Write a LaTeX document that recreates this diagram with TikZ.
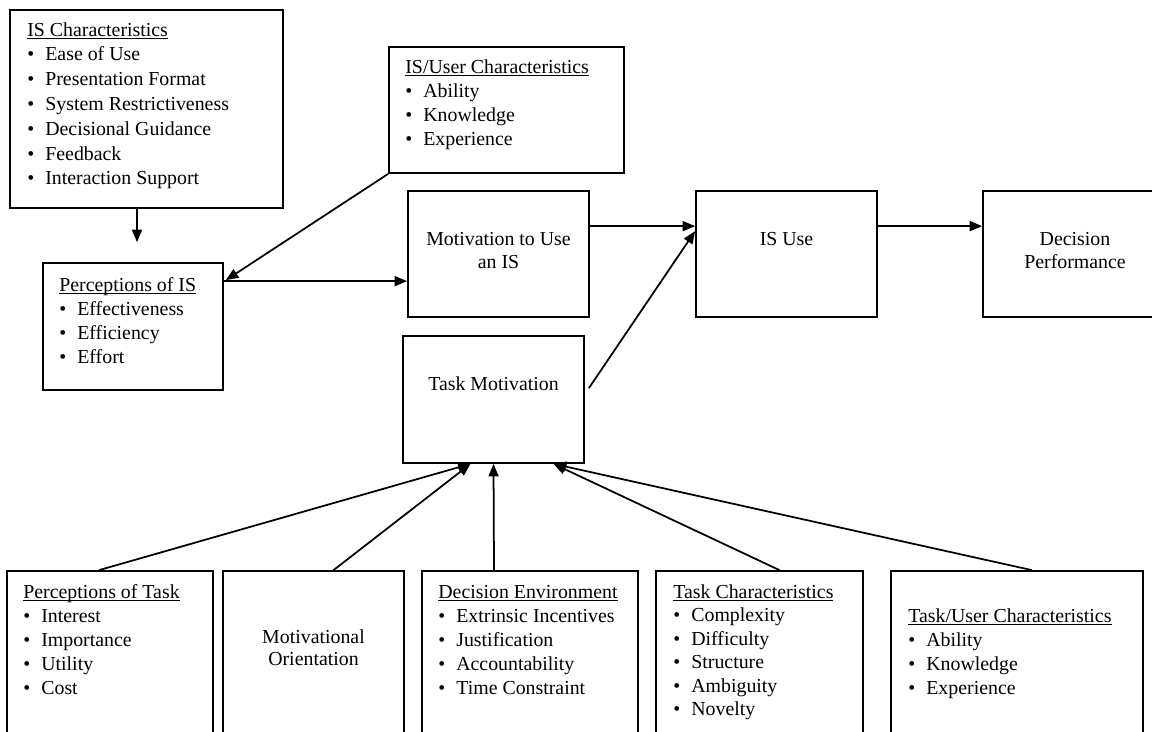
\documentclass[tikz,border=0pt]{standalone}
\usepackage{fontspec}
\setmainfont{Liberation Serif}
\usetikzlibrary{arrows.meta,calc}

\begin{document}
\begin{tikzpicture}[
  x=0.02cm, y=-0.02cm,
  box/.style={draw, line width=1pt, inner sep=0pt},
  head/.style={anchor=base west, inner sep=0pt,
    font=\fontsize{11.3}{13.6}\selectfont},
  item/.style={head},
  title/.style={anchor=north, inner sep=0pt, align=center,
    font=\fontsize{11.3}{13}\selectfont},
  arr/.style={line width=1pt, -{Triangle[length=2.5mm, width=2mm]}}
]
\def\bul{\makebox[0.36cm][l]{\textbullet}}
\def\hd#1{\underline{\smash{#1}}}

\useasboundingbox (0,0) rectangle (1152,731);
\clip (0,0) rectangle (1152,731);

% --- IS Characteristics ---
\node[box, minimum width=5.46cm, minimum height=3.96cm] (ischar) at (146.5,109) {};
\node[head] (ischarhd) at (27,36) {\hd{IS Characteristics}};
\foreach \t [count=\i] in
  {Ease of Use, Presentation Format, System Restrictiveness,
   Decisional Guidance, Feedback, Interaction Support}
{
  \node[item] (ischar\i) at (27,36+24.8*\i) {\bul\t};
}

% --- IS/User Characteristics ---
\node[box, minimum width=4.70cm, minimum height=2.52cm] (isuser) at (506.5,110) {};
\node[head] (isuserhd) at (405,73) {\hd{IS/User Characteristics}};
\foreach \t [count=\i] in
  {Ability, Knowledge, Experience}
{
  \node[item] (isuser\i) at (405,73+24.3*\i) {\bul\t};
}

% --- Perceptions of IS ---
\node[box, minimum width=3.60cm, minimum height=2.54cm] (percis) at (133,326.5) {};
\node[head] (percishd) at (59,291) {\hd{Perceptions of IS}};
\foreach \t [count=\i] in
  {Effectiveness, Efficiency, Effort}
{
  \node[item] (percis\i) at (59,291+24*\i) {\bul\t};
}

% --- Middle row ---
\node[box, minimum width=3.62cm, minimum height=2.52cm] (motiv) at (498.5,254) {};
\node[title] (motivtxt) at (498.5,232) {Motivation to Use\\an IS};
\node[box, minimum width=3.62cm, minimum height=2.54cm] (taskmot) at (493.5,399.5) {};
\node[title] (taskmottxt) at (493.5,376) {Task Motivation};
\node[box, minimum width=3.62cm, minimum height=2.52cm] (isuse) at (786.5,254) {};
\node[title] (isusetxt) at (786.5,232) {IS Use};
\node[box, minimum width=3.62cm, minimum height=2.52cm] (decperf) at (1073.5,254) {};
\node[title] (decperftxt) at (1075,232) {Decision\\Performance};

% --- Bottom row ---
\node[box, minimum width=4.12cm, minimum height=4cm] (perctask) at (110,671) {};
\node[head] (perctaskhd) at (23,598) {\hd{Perceptions of Task}};
\foreach \t [count=\i] in
  {Interest, Importance, Utility, Cost}
{
  \node[item] (perctask\i) at (23,598+24*\i) {\bul\t};
}

\node[box, minimum width=3.62cm, minimum height=4cm] (motor) at (313.5,671) {};
\node[title] (motortxt) at (313.5,629) {Motivational\\Orientation};

\node[box, minimum width=4.32cm, minimum height=4cm] (decenv) at (530,671) {};
\node[head] (decenvhd) at (438,598) {\hd{Decision Environment}};
\foreach \t [count=\i] in
  {Extrinsic Incentives, Justification, Accountability, Time Constraint}
{
  \node[item] (decenv\i) at (438,598+24*\i) {\bul\t};
}

\node[box, minimum width=4.14cm, minimum height=4cm] (taskchar) at (759.5,671) {};
\node[head] (taskcharhd) at (673,598) {\hd{Task Characteristics}};
\foreach \t [count=\i] in
  {Complexity, Difficulty, Structure, Ambiguity, Novelty}
{
  \node[item] (taskchar\i) at (673,598+23.5*\i) {\bul\t};
}

\node[box, minimum width=5.04cm, minimum height=4cm] (taskuser) at (1017,671) {};
\node[head] (taskuserhd) at (908,622) {\hd{Task/User Characteristics}};
\foreach \t [count=\i] in
  {Ability, Knowledge, Experience}
{
  \node[item] (taskuser\i) at (908,622+24*\i) {\bul\t};
}

% --- Arrows, upper part ---
\coordinate (percisin) at ($(percis.north)+(4,-20)$);
\draw[arr] (ischar.south -| percisin) -- (percisin);
\draw[arr] (isuser.south west) -- ($(percis.north east)+(2,18)$);
\coordinate (percisout) at ($(percis.north east)+(0,19)$);
\draw[arr] (percisout) -- (percisout -| motiv.west);
\draw[arr] ($(motiv.north east)+(0,36)$) -- ($(isuse.north west)+(0,36)$);
\draw[arr] ($(taskmot.north east)+(4,53)$) -- ($(isuse.north west)+(0,41)$);
\draw[arr] ($(isuse.north east)+(0,36)$) -- ($(decperf.north west)+(0,36)$);

% --- Arrows into Task Motivation ---
\foreach \src/\dx/\ex in
  {perctask/-11/-23, motor/20/-23, decenv/-36/0, taskchar/20/60, taskuser/15/60}
{
  \draw[arr] ($(\src.north)+(\dx,0)$) -- ($(taskmot.south)+(\ex,0)$);
}

\end{tikzpicture}
\end{document}
